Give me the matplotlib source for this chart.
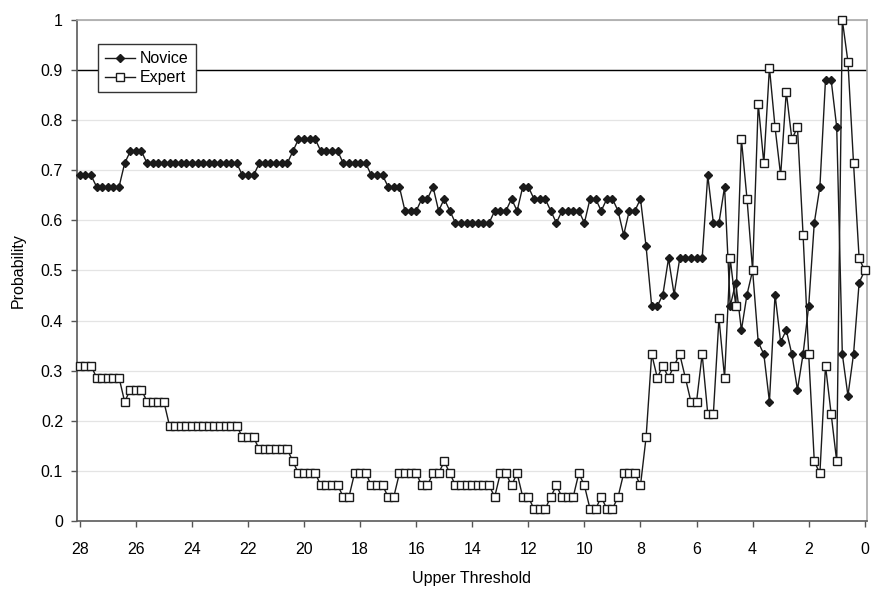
import numpy as np
import matplotlib
matplotlib.use('Agg')
import matplotlib.pyplot as plt
from matplotlib.ticker import FuncFormatter

plt.rcParams['font.family'] = ['Liberation Sans', 'DejaVu Sans']
plt.rcParams['font.size'] = 11

# Umbral superior: de 28 a 0 en pasos de 0.2
thresholds = np.round(np.arange(28.0, -0.01, -0.2), 1)

novice = [
    0.690, 0.690, 0.690, 0.667, 0.667, 0.667, 0.667, 0.667, 0.714, 0.738,
    0.738, 0.738, 0.714, 0.714, 0.714, 0.714, 0.714, 0.714, 0.714, 0.714,
    0.714, 0.714, 0.714, 0.714, 0.714, 0.714, 0.714, 0.714, 0.714, 0.690,
    0.690, 0.690, 0.714, 0.714, 0.714, 0.714, 0.714, 0.714, 0.738, 0.762,
    0.762, 0.762, 0.762, 0.738, 0.738, 0.738, 0.738, 0.714, 0.714, 0.714,
    0.714, 0.714, 0.690, 0.690, 0.690, 0.667, 0.667, 0.667, 0.619, 0.619,
    0.619, 0.643, 0.643, 0.667, 0.619, 0.643, 0.619, 0.595, 0.595, 0.595,
    0.595, 0.595, 0.595, 0.595, 0.619, 0.619, 0.619, 0.643, 0.619, 0.667,
    0.667, 0.643, 0.643, 0.643, 0.619, 0.595, 0.619, 0.619, 0.619, 0.619,
    0.595, 0.643, 0.643, 0.619, 0.643, 0.643, 0.619, 0.571, 0.619, 0.619,
    0.643, 0.548, 0.429, 0.429, 0.452, 0.524, 0.452, 0.524, 0.524, 0.524,
    0.524, 0.524, 0.690, 0.595, 0.595, 0.667, 0.429, 0.476, 0.381, 0.452,
    0.500, 0.357, 0.333, 0.238, 0.452, 0.357, 0.381, 0.333, 0.262, 0.333,
    0.429, 0.595, 0.667, 0.881, 0.881, 0.786, 0.333, 0.250, 0.333, 0.476,
    0.500,
]

expert = [
    0.310, 0.310, 0.310, 0.286, 0.286, 0.286, 0.286, 0.286, 0.238, 0.262,
    0.262, 0.262, 0.238, 0.238, 0.238, 0.238, 0.190, 0.190, 0.190, 0.190,
    0.190, 0.190, 0.190, 0.190, 0.190, 0.190, 0.190, 0.190, 0.190, 0.167,
    0.167, 0.167, 0.143, 0.143, 0.143, 0.143, 0.143, 0.143, 0.119, 0.095,
    0.095, 0.095, 0.095, 0.071, 0.071, 0.071, 0.071, 0.048, 0.048, 0.095,
    0.095, 0.095, 0.071, 0.071, 0.071, 0.048, 0.048, 0.095, 0.095, 0.095,
    0.095, 0.071, 0.071, 0.095, 0.095, 0.119, 0.095, 0.071, 0.071, 0.071,
    0.071, 0.071, 0.071, 0.071, 0.048, 0.095, 0.095, 0.071, 0.095, 0.048,
    0.048, 0.024, 0.024, 0.024, 0.048, 0.071, 0.048, 0.048, 0.048, 0.095,
    0.071, 0.024, 0.024, 0.048, 0.024, 0.024, 0.048, 0.095, 0.095, 0.095,
    0.071, 0.167, 0.333, 0.286, 0.310, 0.286, 0.310, 0.333, 0.286, 0.238,
    0.238, 0.333, 0.214, 0.214, 0.405, 0.286, 0.524, 0.429, 0.762, 0.643,
    0.500, 0.833, 0.714, 0.905, 0.786, 0.690, 0.857, 0.762, 0.786, 0.571,
    0.333, 0.119, 0.095, 0.310, 0.214, 0.119, 1.000, 0.917, 0.714, 0.524,
    0.500,
]

xticks = [28, 26, 24, 22, 20, 18, 16, 14, 12, 10, 8, 6, 4, 2, 0]
yticks = [0, 0.1, 0.2, 0.3, 0.4, 0.5, 0.6, 0.7, 0.8, 0.9, 1]
line_09 = 0.9

fig = plt.figure(figsize=(8.71, 5.89), dpi=100)
ax = fig.add_axes([0.0884, 0.1155, 0.9070, 0.8505])

# Rejilla horizontal
for y in yticks[1:]:
    ax.axhline(y, color='#e4e4e4', lw=0.9, zorder=0)
ax.axhline(line_09, color='black', lw=1.0, zorder=1)

ax.plot(thresholds, novice, color='#1a1a1a', lw=1.0, marker='D', markersize=4.2,
        markerfacecolor='#1a1a1a', markeredgecolor='#1a1a1a', label='Novice',
        zorder=3, clip_on=False)
ax.plot(thresholds, expert, color='#1a1a1a', lw=1.0, marker='s', markersize=6.2,
        markerfacecolor='white', markeredgecolor='#1a1a1a', markeredgewidth=1.0,
        label='Expert', zorder=4, clip_on=False)

ax.set_xlim(28.1, -0.08)
ax.set_ylim(0, 1)
ax.set_xticks(xticks)
ax.set_yticks(yticks)
ax.yaxis.set_major_formatter(FuncFormatter(lambda v, p: '%g' % v))
ax.tick_params(direction='out', length=4, width=1, color='#555555', labelsize=11.5)
ax.tick_params(axis='x', pad=11)
ax.tick_params(axis='y', pad=6)

ax.spines['left'].set_color('#5a5a5a')
ax.spines['bottom'].set_color('#5a5a5a')
ax.spines['top'].set_color('#a8a8a8')
ax.spines['right'].set_color('#a8a8a8')
for s in ax.spines.values():
    s.set_linewidth(1.2)

ax.set_xlabel('Upper Threshold', fontsize=11.5, labelpad=10)
ax.set_ylabel('Probability', fontsize=11.5, labelpad=11)

leg = ax.legend(loc='upper left', bbox_to_anchor=(0.026, 0.952), borderaxespad=0,
                frameon=True, fancybox=False, handlelength=1.9, handletextpad=0.3,
                borderpad=0.45, labelspacing=0.25, fontsize=11.5)
leg.get_frame().set_edgecolor('#333333')
leg.get_frame().set_linewidth(1.0)
leg.get_frame().set_alpha(1)
leg.set_zorder(10)

plt.savefig('out.png', dpi=100)
